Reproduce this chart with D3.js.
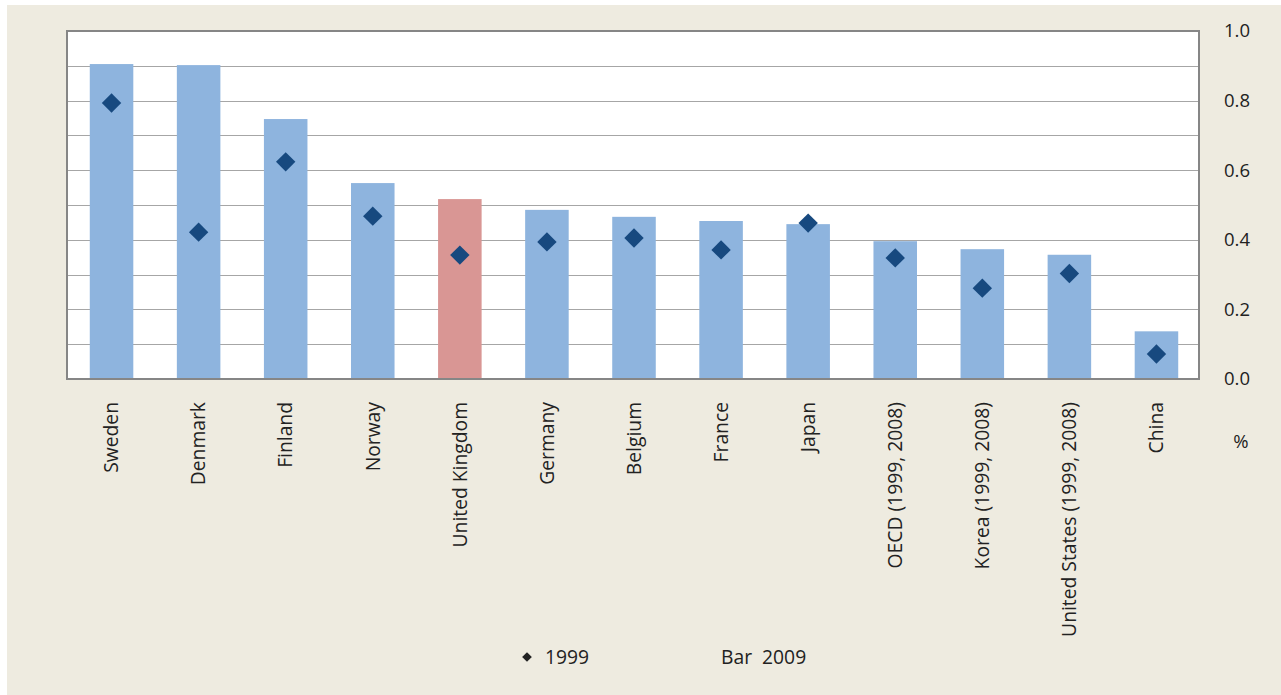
<!DOCTYPE html>
<html><head><meta charset="utf-8">
<script src="https://cdn.jsdelivr.net/npm/d3@7"></script>
<style>html,body{margin:0;padding:0;background:#fff;}svg{display:block;}</style>
</head><body>
<script>
const categories = ["Sweden","Denmark","Finland","Norway","United Kingdom","Germany","Belgium","France","Japan","OECD (1999, 2008)","Korea (1999, 2008)","United States (1999, 2008)","China"];
const values2009 = [0.905,0.902,0.747,0.563,0.517,0.486,0.466,0.454,0.445,0.396,0.373,0.357,0.137];
const values1999 = [0.793,0.422,0.624,0.468,0.356,0.394,0.405,0.371,0.448,0.348,0.261,0.303,0.072];
const highlight = ["United Kingdom"];
const yTicks = [0,0.2,0.4,0.6,0.8,1.0];
const gridTicks = [0.1,0.2,0.3,0.4,0.5,0.6,0.7,0.8,0.9];
const legendLabels = ["1999","Bar  2009"];

const W = 1281, H = 695;
const font = "'Open Sans', sans-serif";
const svg = d3.select("body").append("svg").attr("width",W).attr("height",H);
svg.append("rect").attr("x",7).attr("y",5).attr("width",W-7).attr("height",H-5).attr("fill","#EEEBE0");

const L = 67, R = 1199, T = 31, B = 379;
const x = d3.scaleBand().domain(categories).range([L+1,R+1]).paddingInner(0.5).paddingOuter(0.25);
const y = d3.scaleLinear().domain([0,1]).range([B,T]);

svg.append("rect").attr("x",L).attr("y",T).attr("width",R-L).attr("height",B-T).attr("fill","#fff");

svg.append("g").selectAll("line").data(gridTicks).join("line")
  .attr("x1",L).attr("x2",R).attr("y1",d=>Math.round(y(d))+0.5).attr("y2",d=>Math.round(y(d))+0.5)
  .attr("stroke","#a6a6a6").attr("stroke-width",1);

svg.append("g").selectAll("rect").data(categories).join("rect")
  .attr("x",d=>x(d)).attr("width",x.bandwidth())
  .attr("y",(d,i)=>y(values2009[i])).attr("height",(d,i)=>B-y(values2009[i]))
  .attr("fill",d=>highlight.includes(d)?"#D99694":"#8EB4DE");

// border
svg.append("rect").attr("x",L).attr("y",T).attr("width",R-L).attr("height",B-T)
  .attr("fill","none").attr("stroke","#868686").attr("stroke-width",2);

const dsym = d3.symbol().type(d3.symbolDiamond2).size(240);
svg.append("g").selectAll("path").data(categories).join("path")
  .attr("d",dsym)
  .attr("transform",(d,i)=>`translate(${x(d)+x.bandwidth()/2},${y(values1999[i])})`)
  .attr("fill","#17497F");

// right axis
const axis = d3.axisRight(y).tickValues(yTicks).tickFormat(d3.format(".1f")).tickSize(0).tickPadding(0);
const ga = svg.append("g").attr("transform",`translate(1237,0)`).call(axis);
ga.select(".domain").remove();
ga.selectAll("text").attr("font-family",font).attr("font-size",18.5).attr("fill","#222").attr("text-anchor","middle").attr("dy","0.32em");

svg.append("text").attr("x",1241).attr("y",442).attr("dy","0.35em").attr("text-anchor","middle")
  .attr("font-family",font).attr("font-size",18.5).attr("fill","#222").text("%");

// category labels
svg.append("g").selectAll("text").data(categories).join("text")
  .attr("transform",d=>`translate(${x(d)+x.bandwidth()/2},402) rotate(-90)`)
  .attr("text-anchor","end").attr("dy","0.35em")
  .attr("font-family",font).attr("font-size",19.3).attr("fill","#222").text(d=>d);

// legend
svg.append("path").attr("d",d3.symbol().type(d3.symbolDiamond2).size(60))
  .attr("transform","translate(527,657)").attr("fill","#222");
svg.append("text").attr("x",545).attr("y",657).attr("dy","0.35em")
  .attr("font-family",font).attr("font-size",19.3).attr("fill","#222").text(legendLabels[0]);
svg.append("text").attr("x",721).attr("y",657).attr("dy","0.35em")
  .style("white-space","pre")
  .attr("font-family",font).attr("font-size",19.3).attr("fill","#222").text(legendLabels[1]);
</script>
</body></html>
